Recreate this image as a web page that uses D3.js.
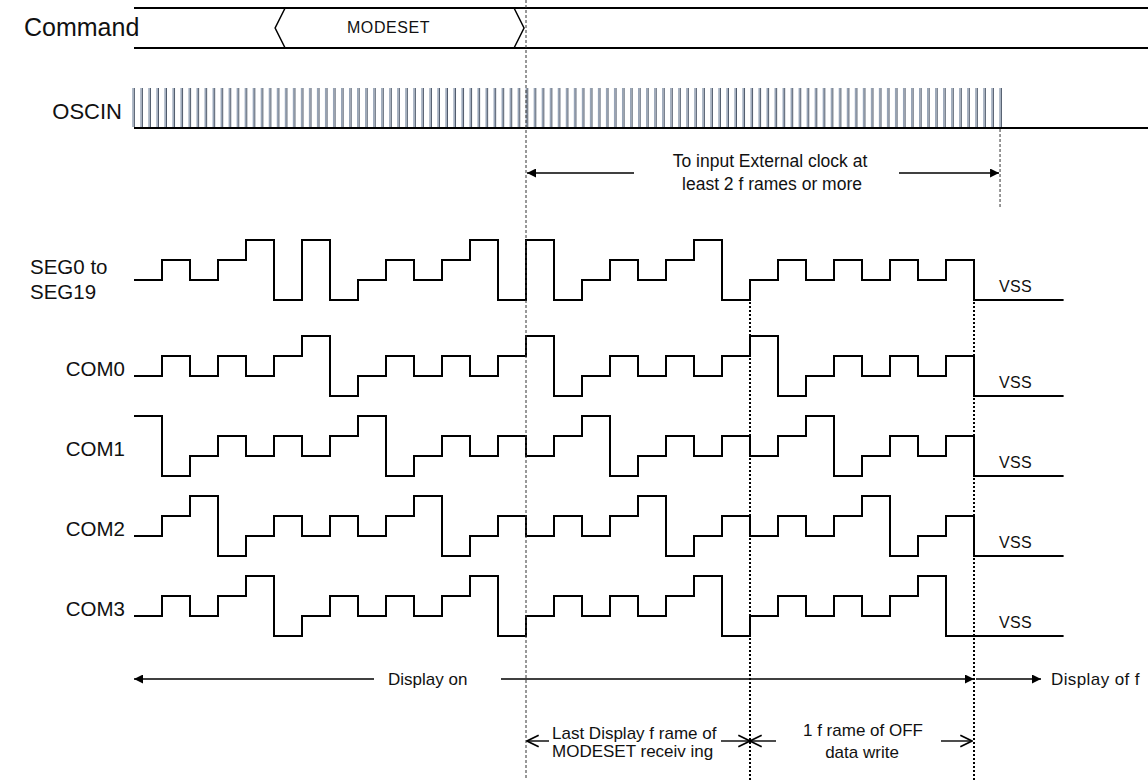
<!DOCTYPE html>
<html>
<head>
<meta charset="utf-8">
<script src="https://cdn.jsdelivr.net/npm/d3@7"></script>
<style>
  body { margin: 0; background: #fff; }
  text { font-family: "Liberation Sans", Arial, sans-serif; fill: #111; }
</style>
</head>
<body>
<div class="chart"></div>
<script>
// drive level in each slot, 0 = lowest .. 3 = highest, 30 slots then VSS
const segLevels  = [1,2,1,2,3,0, 3,0,1,2,1,2,3,0, 3,0,1,2,1,2,3,0, 1,2,1,2,1,2,1,2];
const com0Levels = [1,2,1,2,1,2, 3,0,1,2,1,2,1,2, 3,0,1,2,1,2,1,2, 3,0,1,2,1,2,1,2];
const com1Levels = [3,0,1,2,1,2, 1,2,3,0,1,2,1,2, 1,2,3,0,1,2,1,2, 1,2,3,0,1,2,1,2];
const com2Levels = [1,2,3,0,1,2, 1,2,1,2,3,0,1,2, 1,2,1,2,3,0,1,2, 1,2,1,2,3,0,1,2];
const com3Levels = [1,2,1,2,3,0, 1,2,1,2,1,2,3,0, 1,2,1,2,1,2,3,0, 1,2,1,2,1,2,3,0];
const rowNames = ["SEG", "COM0", "COM1", "COM2", "COM3"];
const vssLevel = 0;
const vssEnd = 33.2;          // slot where the VSS tail stops

// frame marks and spans, in slots
const frameMarks = [14, 22, 30];
const modesetSpan = [5.04, 13.93];
const clockEnd = 30.93;
const oscinPulses = 109;

const W = 1148, H = 780;

let svg = d3.select(".chart")
  .append("svg")
  .attr("width", W)
  .attr("height", H)
  .style("background-color", "white");

// time axis: one slot = one step of the LCD drive
let x = d3.scaleLinear().domain([0, 30]).range([134, 974]);

// level 0 baseline of each waveform row
let rowBase = d3.scaleOrdinal().domain(rowNames).range([300, 396, 476, 556, 636]);
let rowData = [segLevels, com0Levels, com1Levels, com2Levels, com3Levels];

let defs = svg.append("defs");
defs.append("marker")
  .attr("id", "solid")
  .attr("viewBox", "0 0 10 10")
  .attr("refX", 10).attr("refY", 5)
  .attr("markerWidth", 11).attr("markerHeight", 9)
  .attr("markerUnits", "userSpaceOnUse")
  .attr("orient", "auto-start-reverse")
  .append("path").attr("d", "M0,0 L10,5 L0,10 Z").attr("fill", "#000");
defs.append("marker")
  .attr("id", "open")
  .attr("viewBox", "0 0 12 12")
  .attr("refX", 11).attr("refY", 6)
  .attr("markerWidth", 14).attr("markerHeight", 14)
  .attr("markerUnits", "userSpaceOnUse")
  .attr("orient", "auto-start-reverse")
  .append("path").attr("d", "M1,1 L11,6 L1,11").attr("fill", "none")
  .attr("stroke", "#000").attr("stroke-width", 1.4);

// ---- Command row
let cmd = svg.append("g");
[8, 48].forEach(function(yy) {
  cmd.append("line")
    .attr("x1", x(0)).attr("x2", W)
    .attr("y1", yy).attr("y2", yy)
    .attr("stroke", "#000").attr("stroke-width", 2);
});
let m0 = x(modesetSpan[0]), m1 = x(modesetSpan[1]);
cmd.append("path")
  .attr("d", `M${m0 + 10},8 L${m0},28 L${m0 + 10},48 M${m1 - 10},8 L${m1},28 L${m1 - 10},48`)
  .attr("fill", "none").attr("stroke", "#000").attr("stroke-width", 1.5);
cmd.append("text")
  .attr("x", (m0 + m1) / 2 - 11).attr("y", 33)
  .attr("text-anchor", "middle")
  .attr("font-size", 16).attr("letter-spacing", 0.6)
  .text("MODESET");

// ---- OSCIN clock
let pulseX = d3.scaleLinear().domain([0, oscinPulses - 1]).range([x(0) - 1, x(clockEnd)]);
let osc = svg.append("g");
osc.selectAll("line.lt")
  .data(d3.range(oscinPulses))
  .enter().append("line")
  .attr("class", "lt")
  .attr("x1", d => pulseX(d)).attr("x2", d => pulseX(d))
  .attr("y1", 88).attr("y2", 127)
  .attr("stroke", "#97a4b7").attr("stroke-width", 1.5);
osc.selectAll("line.dk")
  .data(d3.range(oscinPulses))
  .enter().append("line")
  .attr("class", "dk")
  .attr("x1", d => pulseX(d) + 1.4).attr("x2", d => pulseX(d) + 1.4)
  .attr("y1", 88).attr("y2", 127)
  .attr("stroke", "#4f5a6b").attr("stroke-width", 1);
osc.append("line")
  .attr("x1", x(0)).attr("x2", W)
  .attr("y1", 128).attr("y2", 128)
  .attr("stroke", "#000").attr("stroke-width", 2);

// ---- waveforms
let wave = d3.line()
  .x(d => x(d.t))
  .y(d => d.y)
  .curve(d3.curveStepAfter);

rowNames.forEach(function(name, r) {
  let y = d3.scaleLinear().domain([0, 3]).range([rowBase(name), rowBase(name) - 60]);
  let pts = rowData[r].map((lv, i) => ({ t: i, y: y(lv) }));
  pts.push({ t: 30, y: y(vssLevel) });
  pts.push({ t: vssEnd, y: y(vssLevel) });
  svg.append("path")
    .attr("d", wave(pts))
    .attr("fill", "none")
    .attr("stroke", "#000")
    .attr("stroke-width", 2);
  svg.append("text")
    .attr("x", x(30) + 25).attr("y", y(vssLevel) - 8)
    .attr("font-size", 16).attr("letter-spacing", 0.3)
    .text("VSS");
});

// ---- row labels
svg.append("text").attr("x", 24).attr("y", 36).attr("font-size", 25).text("Command");
svg.append("text").attr("x", 122).attr("y", 119).attr("font-size", 22)
  .attr("text-anchor", "end").text("OSCIN");
svg.append("text").attr("x", 30).attr("y", 274).attr("font-size", 20.5).text("SEG0 to");
svg.append("text").attr("x", 30).attr("y", 299).attr("font-size", 20.5).text("SEG19");
["COM0", "COM1", "COM2", "COM3"].forEach(function(name) {
  svg.append("text")
    .attr("x", 125).attr("y", rowBase(name) - 20)
    .attr("text-anchor", "end")
    .attr("font-size", 20.5)
    .text(name);
});

// ---- frame markers
svg.append("line")
  .attr("x1", x(frameMarks[0])).attr("x2", x(frameMarks[0]))
  .attr("y1", 0).attr("y2", H)
  .attr("stroke", "#333").attr("stroke-width", 1)
  .attr("stroke-dasharray", "3,2");
svg.append("line")
  .attr("x1", x(clockEnd)).attr("x2", x(clockEnd))
  .attr("y1", 129).attr("y2", 208)
  .attr("stroke", "#333").attr("stroke-width", 1)
  .attr("stroke-dasharray", "3,2");
svg.selectAll("line.frame")
  .data(frameMarks.slice(1))
  .enter().append("line")
  .attr("class", "frame")
  .attr("x1", d => x(d)).attr("x2", d => x(d))
  .attr("y1", 302).attr("y2", H)
  .attr("stroke", "#000").attr("stroke-width", 2)
  .attr("stroke-dasharray", "2,2");

// ---- external clock note
let ny = 173;
svg.append("line")
  .attr("x1", 634).attr("x2", x(frameMarks[0]) + 1)
  .attr("y1", ny).attr("y2", ny)
  .attr("stroke", "#000").attr("stroke-width", 1.5)
  .attr("marker-end", "url(#solid)");
svg.append("line")
  .attr("x1", 899).attr("x2", x(clockEnd) - 1)
  .attr("y1", ny).attr("y2", ny)
  .attr("stroke", "#000").attr("stroke-width", 1.5)
  .attr("marker-end", "url(#solid)");
svg.append("text").attr("x", 770).attr("y", 167).attr("font-size", 17.5)
  .attr("text-anchor", "middle").text("To input External clock at");
svg.append("text").attr("x", 772).attr("y", 190).attr("font-size", 17.5)
  .attr("text-anchor", "middle").text("least 2 f rames or more");

// ---- display on / off
let dy = 679;
svg.append("line")
  .attr("x1", 374).attr("x2", x(0))
  .attr("y1", dy).attr("y2", dy)
  .attr("stroke", "#000").attr("stroke-width", 1.5)
  .attr("marker-end", "url(#solid)");
svg.append("line")
  .attr("x1", 501).attr("x2", x(30))
  .attr("y1", dy).attr("y2", dy)
  .attr("stroke", "#000").attr("stroke-width", 1.5)
  .attr("marker-end", "url(#solid)");
svg.append("line")
  .attr("x1", x(30) + 2).attr("x2", 1041)
  .attr("y1", dy).attr("y2", dy)
  .attr("stroke", "#000").attr("stroke-width", 1.5)
  .attr("marker-end", "url(#solid)");
svg.append("text").attr("x", 388).attr("y", dy + 6).attr("font-size", 17).text("Display on");
svg.append("text").attr("x", 1051).attr("y", dy + 6).attr("font-size", 17)
  .attr("letter-spacing", 0.4).text("Display of f");

// ---- frame notes
let by = 741;
svg.append("line")
  .attr("x1", 549).attr("x2", x(frameMarks[0]) + 1)
  .attr("y1", by).attr("y2", by)
  .attr("stroke", "#000").attr("stroke-width", 1.4)
  .attr("marker-end", "url(#open)");
svg.append("line")
  .attr("x1", 721).attr("x2", x(frameMarks[1]))
  .attr("y1", by).attr("y2", by)
  .attr("stroke", "#000").attr("stroke-width", 1.4)
  .attr("marker-end", "url(#open)");
svg.append("line")
  .attr("x1", 776).attr("x2", x(frameMarks[1]))
  .attr("y1", by).attr("y2", by)
  .attr("stroke", "#000").attr("stroke-width", 1.4)
  .attr("marker-end", "url(#open)");
svg.append("line")
  .attr("x1", 941).attr("x2", x(frameMarks[2]) - 2)
  .attr("y1", by).attr("y2", by)
  .attr("stroke", "#000").attr("stroke-width", 1.4)
  .attr("marker-end", "url(#open)");
svg.append("text").attr("x", 552).attr("y", 739).attr("font-size", 17).text("Last Display f rame of");
svg.append("text").attr("x", 552).attr("y", 757).attr("font-size", 17).text("MODESET  receiv ing");
svg.append("text").attr("x", 863).attr("y", 736).attr("font-size", 17)
  .attr("text-anchor", "middle").text("1 f rame of  OFF");
svg.append("text").attr("x", 862).attr("y", 758).attr("font-size", 17)
  .attr("text-anchor", "middle").text("data write");
</script>
</body>
</html>
